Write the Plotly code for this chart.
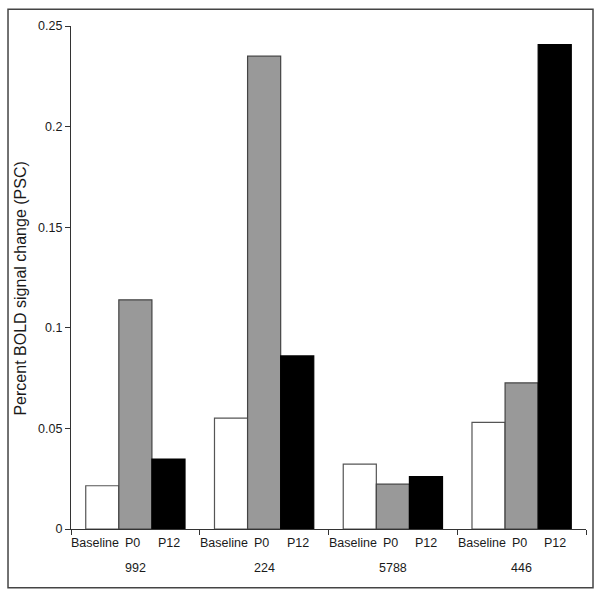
import plotly.graph_objects as go

groups = ["992", "224", "5788", "446"]
conditions = ["Baseline", "P0", "P12"]
baseline = [0.0215, 0.0551, 0.0322, 0.0530]
p0 = [0.1139, 0.2350, 0.0223, 0.0726]
p12 = [0.0348, 0.0860, 0.0261, 0.2408]
y_ticks = [0, 0.05, 0.1, 0.15, 0.2, 0.25]
y_ticktext = ["0", "0.05", "0.1", "0.15", "0.2", "0.25"]

series = [baseline, p0, p12]
fills = ["#ffffff", "#999999", "#000000"]
outlines = ["#555555", "#444444", "#000000"]
bar_w = 0.257
offsets = [-bar_w, 0.0, bar_w]
label_offsets = [-0.31, -0.02, 0.26]

fig = go.Figure()
gx = list(range(len(groups)))
for vals, off, fc, lc, name in zip(series, offsets, fills, outlines, conditions):
    fig.add_trace(go.Bar(
        x=[g + off for g in gx], y=vals, width=bar_w, name=name,
        marker=dict(color=fc, line=dict(color=lc, width=1.2)),
        showlegend=False,
    ))

font = "Liberation Sans, Arial, sans-serif"
ann = []
for g, gname in zip(gx, groups):
    for c, lo in zip(conditions, label_offsets):
        ann.append(dict(x=g + lo, y=0, xref="x", yref="paper", text=c,
                        showarrow=False, yanchor="middle", yshift=-14,
                        font=dict(family=font, size=12.5, color="#1a1a1a")))
    ann.append(dict(x=g, y=0, xref="x", yref="paper", text=gname,
                    showarrow=False, yanchor="middle", yshift=-39,
                    font=dict(family=font, size=12.5, color="#1a1a1a")))
ann.append(dict(x=0, y=0.478, xref="paper", yref="paper",
                text="Percent BOLD signal change (PSC)", textangle=-90,
                showarrow=False, xshift=-50, xanchor="center",
                font=dict(family=font, size=16, color="#1a1a1a")))

fig.update_layout(
    width=602, height=597,
    margin=dict(l=71, r=16, t=26, b=68),
    paper_bgcolor="white", plot_bgcolor="white",
    barmode="overlay",
    annotations=ann,
    shapes=[dict(type="rect", xref="paper", yref="paper",
                 x0=-0.1223, x1=1.0136, y0=-0.1166, y1=1.0332,
                 line=dict(color="#444444", width=1.5))],
    xaxis=dict(range=[-0.5, len(groups) - 0.5], tickmode="array",
               tickvals=[i - 0.5 for i in range(len(groups) + 1)],
               ticktext=[""] * (len(groups) + 1),
               ticks="outside", ticklen=5, tickcolor="#333",
               showline=True, linecolor="#333", linewidth=1.2,
               showgrid=False, zeroline=False, automargin=False),
    yaxis=dict(range=[0, 0.25], tickmode="array", tickvals=y_ticks,
               ticktext=y_ticktext, ticks="outside", ticklen=5,
               tickcolor="#333", showline=True, linecolor="#333",
               linewidth=1.2, showgrid=False, zeroline=False, automargin=False,
               tickfont=dict(family=font, size=12.5, color="#1a1a1a")),
)

fig.write_html("out.html", config={"displayModeBar": False},
               post_script="document.body.style.margin='0';document.body.style.overflow='hidden';")
